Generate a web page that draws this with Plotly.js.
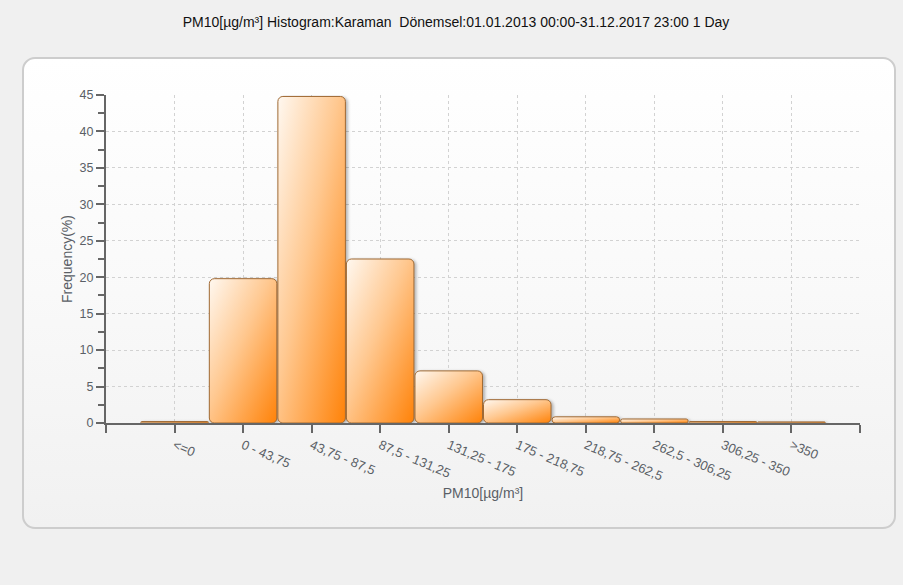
<!DOCTYPE html>
<html>
<head>
<meta charset="utf-8">
<script src="https://cdn.plot.ly/plotly-3.0.1.min.js"></script>
<style>
  html, body { margin: 0; padding: 0; background: #f0f0f0; width: 903px; height: 585px; overflow: hidden; }
  #panel { position: absolute; left: 22px; top: 57px; width: 870px; height: 468px;
           border: 2px solid #cdcdcd; border-radius: 13px;
           background: linear-gradient(to bottom, #ffffff 0%, #f9f9f9 50%, #f1f1f1 100%); }
  #chart { position: absolute; left: 0; top: 0; width: 903px; height: 585px; }
</style>
</head>
<body>
<div id="panel"></div>
<div id="chart"></div>
<script>
const chartTitle = 'PM10[µg/m³] Histogram:Karaman\u00a0 Dönemsel:01.01.2013 00:00-31.12.2017 23:00 1 Day';
const xTitle = 'PM10[µg/m³]';
const yTitle = 'Frequency(%)';
const categories = ['<=0', '0 - 43,75', '43,75 - 87,5', '87,5 - 131,25', '131,25 - 175',
                    '175 - 218,75', '218,75 - 262,5', '262,5 - 306,25', '306,25 - 350', '>350'];
const frequency = [0.2, 19.8, 44.8, 22.5, 7.15, 3.2, 0.85, 0.55, 0.2, 0.15];
const yTickVals = [0, 5, 10, 15, 20, 25, 30, 35, 40, 45];

const xPos = categories.map((c, i) => i);

const trace = {
  type: 'bar',
  x: xPos,
  y: frequency,
  width: 0.985,
  marker: {
    color: '#ffab5c',
    line: { color: '#a06a34', width: 1 }
  },
  hoverinfo: 'none'
};

const fam = 'Liberation Sans, Arial, sans-serif';

const layout = {
  width: 903, height: 585,
  paper_bgcolor: 'rgba(0,0,0,0)',
  plot_bgcolor: 'rgba(0,0,0,0)',
  margin: { l: 106, r: 43, t: 95, b: 162 },
  showlegend: false,
  title: {
    text: chartTitle,
    font: { family: fam, size: 14, color: '#111' },
    x: 0.505, xref: 'container', xanchor: 'center',
    y: 1 - 22 / 585, yref: 'container', yanchor: 'middle'
  },
  xaxis: {
    range: [-1, categories.length],
    tickmode: 'array',
    tickvals: xPos,
    ticktext: categories,
    tickangle: 23,
    tickfont: { family: fam, size: 13, color: '#5a5f66' },
    ticks: 'outside', ticklen: 8, tickwidth: 2, tickcolor: '#666',
    showline: true, linecolor: '#666', linewidth: 2,
    showgrid: true, gridcolor: '#d2d2d2', griddash: '3px,3px', gridwidth: 1,
    zeroline: false, automargin: false,
    minor: { tickmode: 'array', tickvals: [-1, categories.length], ticks: 'outside', ticklen: 8, tickwidth: 2, tickcolor: '#666', showgrid: false },
    title: { text: xTitle, font: { family: fam, size: 14, color: '#5a5f66' }, standoff: 6 },
    fixedrange: true
  },
  yaxis: {
    range: [0, 45],
    tickmode: 'array',
    tickvals: yTickVals,
    tickfont: { family: fam, size: 12.5, color: '#5a5f66' },
    ticks: 'outside', ticklen: 8, tickwidth: 2, tickcolor: '#666',
    showline: true, linecolor: '#666', linewidth: 2,
    showgrid: true, gridcolor: '#d2d2d2', griddash: '3px,3px', gridwidth: 1,
    zeroline: false, automargin: false,
    minor: { dtick: 2.5, ticks: 'outside', ticklen: 6, tickwidth: 2, tickcolor: '#666', showgrid: false },
    title: { text: yTitle, font: { family: fam, size: 14, color: '#5a5f66' }, standoff: 4 },
    fixedrange: true
  }
};

Plotly.newPlot('chart', [trace], layout, { staticPlot: true, displayModeBar: false }).then(function (gd) {
  const svg = gd.querySelector('svg.main-svg');
  const NS = 'http://www.w3.org/2000/svg';
  let defs = svg.querySelector('defs');
  if (!defs) { defs = document.createElementNS(NS, 'defs'); svg.insertBefore(defs, svg.firstChild); }
  const grad = document.createElementNS(NS, 'linearGradient');
  grad.setAttribute('id', 'barGrad');
  grad.setAttribute('x1', '0'); grad.setAttribute('y1', '0');
  grad.setAttribute('x2', '1'); grad.setAttribute('y2', '1');
  [['0%', '#fff8f0'], ['45%', '#ffc890'], ['100%', '#ff8208']].forEach(function (s) {
    const st = document.createElementNS(NS, 'stop');
    st.setAttribute('offset', s[0]); st.setAttribute('stop-color', s[1]);
    grad.appendChild(st);
  });
  defs.appendChild(grad);
  gd.querySelectorAll('g.trace.bars g.point path').forEach(function (p) {
    // round all four corners of the bar rectangle Plotly computed
    const b = p.getBBox();
    const r = Math.min(5, b.width / 2, b.height / 2);
    const x0 = b.x, y0 = b.y, x1 = b.x + b.width, y1 = b.y + b.height;
    const d = 'M' + (x0 + r) + ',' + y0 + 'H' + (x1 - r) +
      'A' + r + ',' + r + ' 0 0 1 ' + x1 + ',' + (y0 + r) + 'V' + (y1 - r) +
      'A' + r + ',' + r + ' 0 0 1 ' + (x1 - r) + ',' + y1 + 'H' + (x0 + r) +
      'A' + r + ',' + r + ' 0 0 1 ' + x0 + ',' + (y1 - r) + 'V' + (y0 + r) +
      'A' + r + ',' + r + ' 0 0 1 ' + (x0 + r) + ',' + y0 + 'Z';
    p.setAttribute('d', d);
    p.style.setProperty('fill', 'url(#barGrad)');
    p.style.setProperty('filter', 'drop-shadow(2px 1px 1.5px rgba(0,0,0,0.28))');
  });
});
</script>
</body>
</html>
